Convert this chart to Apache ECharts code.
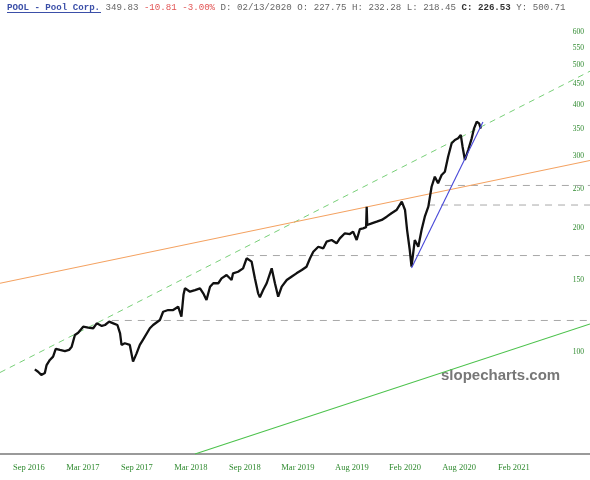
<!DOCTYPE html>
<html><head><meta charset="utf-8">
<script src="https://cdn.jsdelivr.net/npm/echarts@6/dist/echarts.min.js"></script>
<style>html,body{margin:0;padding:0;background:#fff}#c{width:590px;height:480px}</style>
</head><body><div id="c"></div>
<script>
// ---- axis range ----
const xStart = '2016-05-27';
const xEnd = '2021-11-17';
const yMin = 56.58;
const yMax = 642.8;

// ---- price series (approx. closes) ----
const priceDates = [
 '2016-09-22','2016-10-03','2016-10-14','2016-10-26','2016-11-01','2016-11-12','2016-11-23','2016-12-02','2016-12-16',
 '2017-01-02','2017-01-16','2017-01-25','2017-02-05','2017-02-16','2017-03-05','2017-03-22','2017-04-08','2017-04-20',
 '2017-05-07','2017-05-18','2017-06-01','2017-06-15','2017-06-29','2017-07-08','2017-07-13','2017-07-24','2017-08-10',
 '2017-08-21','2017-09-02','2017-09-13','2017-09-23','2017-10-17','2017-10-28','2017-11-20','2017-12-01','2017-12-18',
 '2018-01-04','2018-01-21','2018-02-01','2018-02-08','2018-02-13','2018-03-02','2018-03-19','2018-04-05','2018-04-16',
 '2018-04-27','2018-05-09','2018-05-20','2018-06-06','2018-06-17','2018-07-04','2018-07-21','2018-07-26','2018-08-12',
 '2018-08-29','2018-09-10','2018-09-15','2018-09-27','2018-10-08','2018-10-19','2018-10-25','2018-11-05','2018-11-17',
 '2018-12-04','2018-12-15','2018-12-26','2019-01-07','2019-01-24','2019-02-09','2019-02-26','2019-03-16','2019-04-01',
 '2019-04-13','2019-04-24','2019-05-11','2019-05-28','2019-06-08','2019-06-25','2019-07-12','2019-07-23','2019-08-09',
 '2019-08-26','2019-09-06','2019-09-18','2019-09-29','2019-10-10','2019-10-20','2019-10-22','2019-10-24','2019-11-08',
 '2019-11-25','2019-12-12','2019-12-29','2020-01-14','2020-01-31','2020-02-18','2020-02-29','2020-03-07','2020-03-16',
 '2020-03-22','2020-04-02','2020-04-14','2020-04-25','2020-05-06','2020-05-18','2020-05-29','2020-06-09','2020-06-20',
 '2020-07-02','2020-07-13','2020-07-24','2020-08-05','2020-08-16','2020-08-27','2020-09-05','2020-09-11','2020-09-19',
 '2020-09-30','2020-10-12','2020-10-20','2020-10-29','2020-11-06','2020-11-12'
];
const priceValues = [
 90.9,89.7,88.1,89.1,93.1,95.8,97.6,101.9,101.3,
 100.7,101.3,103.2,110.2,111.6,115.4,114.8,114.4,117.6,
 115.9,116.5,118.7,117.6,116.5,111.2,104.2,105.2,104.2,
 94.9,99.4,104.2,107.1,114.4,116.5,119.8,125.5,126.7,
 126.7,129.1,122.1,138.0,143.1,140.4,141.7,143.1,139.1,
 134.0,144.4,147.2,147.2,151.3,154.2,149.9,155.6,157.0,
 160.0,169.3,170.8,166.1,151.3,139.1,136.1,141.7,147.2,
 160.0,147.2,136.5,144.4,149.9,152.7,155.6,158.5,161.5,
 169.3,175.6,180.6,179.0,185.8,187.5,184.1,189.3,194.7,
 193.9,196.5,187.5,199.4,200.2,201.5,226.0,204.0,205.9,
 207.8,209.8,213.7,217.8,221.8,232.4,221.8,198.3,177.3,
 161.5,187.5,180.6,198.3,213.7,226.0,252.7,267.3,257.6,
 269.9,274.9,299.0,322.3,328.3,331.4,337.6,316.2,293.5,
 310.4,331.4,350.5,363.7,360.4,349.8
];

// ---- drawn trend lines (end points) ----
const greenDashDates = [xStart, xEnd];        const greenDashValues = [89.3, 482.6];
const orangeDates = [xStart, xEnd];           const orangeValues = [147.2, 292.7];
const greenDates = ['2018-03-19', xEnd];      const greenValues = [56.6, 117.2];
const blueDates = ['2020-03-22', '2020-11-19']; const blueValues = [160.3, 363.1];
const levelStarts = ['2020-07-13', '2020-05-17', '2018-09-11', '2017-06-10'];
const levelValues = [254.5, 228.1, 171.9, 119.5];

// ---- ticks ----
const yTickValues = [100, 150, 200, 250, 300, 350, 400, 450, 500, 550, 600];
const xTickDates = ['2016-09-02','2017-03-04','2017-09-03','2018-03-05','2018-09-04','2019-03-03','2019-09-02','2020-02-29','2020-08-30','2021-03-04'];
const xTickLabels = ['Sep 2016','Mar 2017','Sep 2017','Mar 2018','Sep 2018','Mar 2019','Aug 2019','Feb 2020','Aug 2020','Feb 2021'];

// ---- header ----
const hdrName = 'POOL - Pool Corp.';
const hdrLast = '349.83';
const hdrChg = '-10.81 -3.00%';
const hdrMid = 'D: 02/13/2020 O: 227.75 H: 232.28 L: 218.45';
const hdrClose = 'C: 226.53';
const hdrY = 'Y: 500.71';

const T = d => Date.UTC(+d.slice(0, 4), +d.slice(5, 7) - 1, +d.slice(8, 10));
const L = v => Math.log10(v);
const pair = (ds, vs) => ds.map((d, i) => [T(d), L(vs[i])]);
const xTickTimes = xTickDates.map(T);

const lineBase = { type: 'line', showSymbol: false, symbol: 'none', silent: true, animation: false, clip: true };
const series = [
  Object.assign({}, lineBase, { data: pair(greenDashDates, greenDashValues), lineStyle: { color: '#78cf78', width: 1, type: [6, 5] }, z: 2 }),
  Object.assign({}, lineBase, { data: pair(orangeDates, orangeValues), lineStyle: { color: '#f4a261', width: 1.1 }, z: 2 }),
  Object.assign({}, lineBase, { data: pair(greenDates, greenValues), lineStyle: { color: '#4cc24c', width: 1.1 }, z: 2 }),
];
levelValues.forEach((v, i) => {
  series.push(Object.assign({}, lineBase, { data: pair([levelStarts[i], xEnd], [v, v]), lineStyle: { color: '#a8a8a8', width: 1, type: [7, 6] }, z: 1 }));
});
series.push(Object.assign({}, lineBase, { data: pair(priceDates, priceValues), lineStyle: { color: '#111111', width: 2.3 }, z: 4 }));
series.push(Object.assign({}, lineBase, { data: pair(blueDates, blueValues), lineStyle: { color: '#4848d8', width: 1.1 }, z: 5 }));

const chart = echarts.init(document.getElementById('c'), null, { renderer: 'canvas' });
chart.setOption({
  animation: false,
  backgroundColor: '#ffffff',
  title: {
    left: 7, top: 3, padding: 0,
    text: '{n|' + hdrName + '} {g|' + hdrLast + '} {r|' + hdrChg + '} {g|' + hdrMid + '} {c|' + hdrClose + '} {g|' + hdrY + '}',
    textStyle: {
      fontFamily: 'Liberation Mono', fontSize: 9.15, fontWeight: 'normal', color: '#666',
      rich: {
        n: { fontFamily: 'Liberation Mono', fontSize: 9.15, fontWeight: 'bold', color: '#3b4fa8' },
        g: { fontFamily: 'Liberation Mono', fontSize: 9.15, color: '#666' },
        r: { fontFamily: 'Liberation Mono', fontSize: 9.15, color: '#e25555' },
        c: { fontFamily: 'Liberation Mono', fontSize: 9.15, fontWeight: 'bold', color: '#333' }
      }
    }
  },
  grid: { left: 0, right: 0, top: 20, bottom: 26, containLabel: false, outerBoundsMode: 'none' },
  xAxis: {
    type: 'value', min: T(xStart), max: T(xEnd),
    axisLine: { show: true, lineStyle: { color: '#9a9a9a', width: 2 } },
    axisTick: { show: false },
    splitLine: { show: false },
    axisLabel: {
      customValues: xTickTimes,
      margin: 9, hideOverlap: false, showMinLabel: true, showMaxLabel: true,
      fontFamily: 'Liberation Serif', fontSize: 8.5, color: '#2f8a2f',
      formatter: function (v) {
        let best = 0, bd = Infinity;
        xTickTimes.forEach((t, i) => { const d = Math.abs(t - v); if (d < bd) { bd = d; best = i; } });
        return xTickLabels[best];
      }
    }
  },
  yAxis: {
    type: 'value', position: 'right', min: L(yMin), max: L(yMax),
    axisLine: { show: false }, axisTick: { show: false }, splitLine: { show: false },
    axisLabel: {
      inside: true, margin: 6, customValues: yTickValues.map(L),
      fontFamily: 'Liberation Serif', fontSize: 7.5, color: '#2f8a2f',
      formatter: v => String(Math.round(Math.pow(10, v)))
    }
  },
  graphic: [
    { type: 'line', shape: { x1: 7, y1: 12.5, x2: 101, y2: 12.5 }, style: { stroke: '#3b4fa8', lineWidth: 1 }, silent: true },
    { type: 'text', left: 441, top: 368, style: { text: 'slopecharts.com', fontFamily: 'Liberation Sans', fontWeight: 'bold', fontSize: 15, fill: '#777' }, silent: true }
  ],
  series: series
});
</script></body></html>
